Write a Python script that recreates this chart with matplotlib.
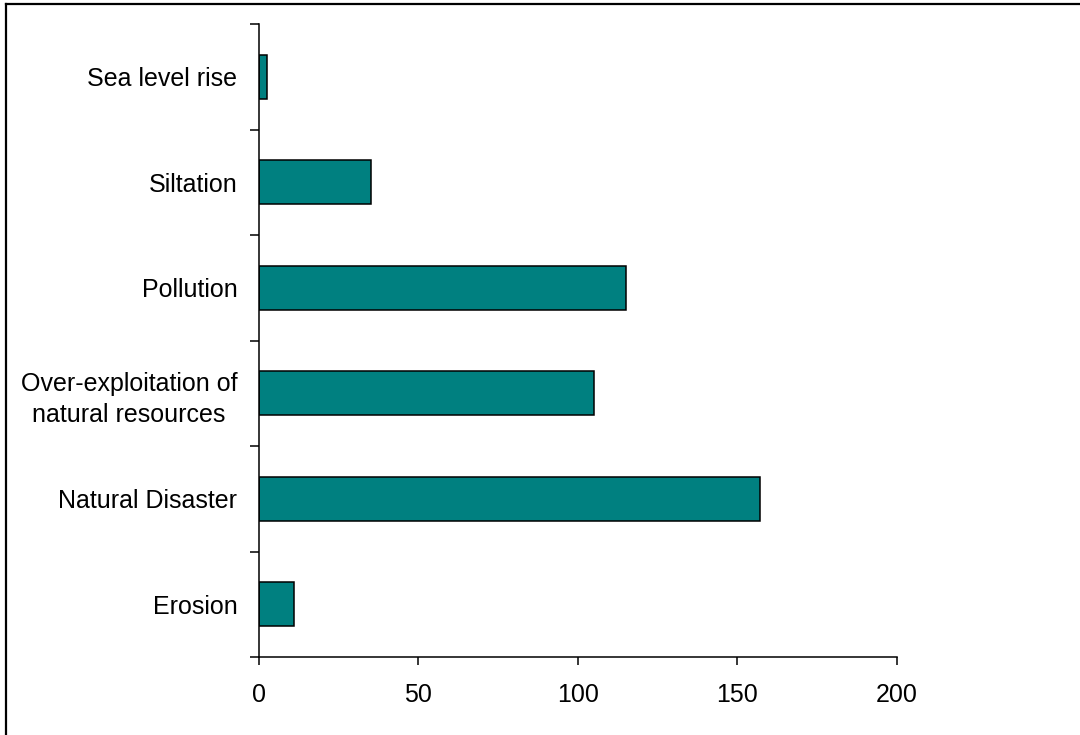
import numpy as np
import matplotlib.pyplot as plt
from matplotlib.lines import Line2D

plt.rcParams['font.family'] = ['Liberation Sans', 'DejaVu Sans']

# bottom to top
categories = ['Erosion', 'Natural Disaster', 'Over-exploitation of\nnatural resources',
              'Pollution', 'Siltation', 'Sea level rise']
counts = [11, 157, 105, 115, 35, 2.5]
x_ticks = [0, 50, 100, 150, 200]

fig = plt.figure(figsize=(10.8, 7.35), dpi=100)
ax = fig.add_axes([259 / 1080, 78 / 735, (896.7 - 259) / 1080, (657 - 24) / 735])

pos = np.arange(len(categories))
ax.barh(pos, counts, height=0.417, color='#008080', edgecolor='black', linewidth=1.1)

ax.set_xlim(0, 200)
ax.set_ylim(-0.5, len(categories) - 0.5)
ax.set_xticks(x_ticks)
ax.tick_params(axis='x', length=6, width=1.1, pad=13, labelsize=18)

# ticks sit between the categories, labels at the bar centres
ax.set_yticks(np.arange(len(categories) + 1) - 0.5)
ax.set_yticklabels([])
ax.set_yticks(pos, minor=True)
ax.set_yticklabels(categories, minor=True, fontsize=18)
ax.tick_params(axis='y', which='major', length=6.5, width=1.1)
ax.tick_params(axis='y', which='minor', length=0, pad=15.5)
for lab in ax.get_yticklabels(minor=True):
    lab.set_multialignment('center')
    lab.set_linespacing(1.4)

for s in ['top', 'right']:
    ax.spines[s].set_visible(False)
for s in ['left', 'bottom']:
    ax.spines[s].set_linewidth(1.1)

# frame around the chart area
fig.add_artist(Line2D([6 / 1080, 1], [1 - 4 / 735, 1 - 4 / 735], color='black', lw=1.6))
fig.add_artist(Line2D([6 / 1080, 6 / 1080], [0, 1 - 4 / 735], color='black', lw=1.6))

fig.savefig('out.png', dpi=100)
